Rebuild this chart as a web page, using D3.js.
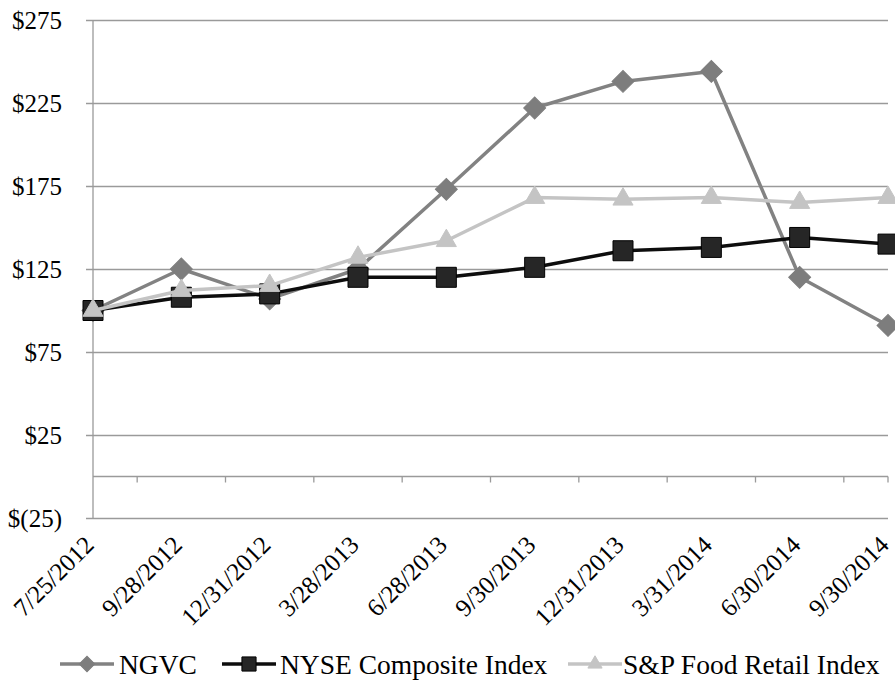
<!DOCTYPE html>
<html>
<head>
<meta charset="utf-8">
<script src="https://cdn.jsdelivr.net/npm/d3@7"></script>
<style>
  html, body { margin: 0; padding: 0; background: #fff; }
  svg { display: block; }
  text { font-family: "Liberation Serif", "Times New Roman", serif; fill: #000; }
</style>
</head>
<body>
<svg id="chart" width="895" height="682"></svg>
<script>
const categories = ["7/25/2012","9/28/2012","12/31/2012","3/28/2013","6/28/2013","9/30/2013","12/31/2013","3/31/2014","6/30/2014","9/30/2014"];
const ngvc = [100, 125, 107, 125, 173, 222, 238, 244, 120, 91];
const nyse = [100, 108, 110, 120, 120, 126, 136, 138, 144, 140];
const spFood = [100, 112, 115, 132, 142, 168, 167, 168, 165, 168];
const yTicks = [-25, 25, 75, 125, 175, 225, 275];
const seriesNames = ["NGVC", "NYSE Composite Index", "S&P Food Retail Index"];

(function () {
const svg = d3.select("#chart");
const pl = 93, pr = 888, pt = 20, pb = 518;
const fs = 25;

const x = d3.scalePoint().domain(categories).range([pl, pr]);
const y = d3.scaleLinear().domain([-25, 275]).range([pb, pt]);

const fmt = v => v < 0 ? "$(" + Math.abs(v) + ")" : "$" + v;

// gridlines + y axis labels
const yAxis = d3.axisLeft(y).tickValues(yTicks).tickFormat(fmt)
  .tickSize(-(pr - pl)).tickSizeOuter(0).tickPadding(31);
const gy = svg.append("g").attr("transform", `translate(${pl},0)`).call(yAxis);
gy.select(".domain").remove();
gy.selectAll(".tick line").attr("stroke", "#9a9a9a").attr("stroke-width", 1.3).attr("x1", -7);
gy.selectAll(".tick text").attr("font-size", fs).attr("font-family", "Liberation Serif").attr("fill", "#000");

// y axis line
svg.append("line").attr("x1", pl).attr("x2", pl).attr("y1", y(275)).attr("y2", y(-25))
  .attr("stroke", "#9a9a9a").attr("stroke-width", 1.3);

// x axis at zero with ticks between categories
const step = x.step();
const tickPos = d3.range(categories.length).map(i => x(categories[i]) + step / 2);
tickPos[tickPos.length - 1] = pr;
const gx = svg.append("g");
gx.append("line").attr("x1", pl).attr("x2", pr).attr("y1", y(0)).attr("y2", y(0))
  .attr("stroke", "#9a9a9a").attr("stroke-width", 1.3);
gx.selectAll("line.tk").data(tickPos).join("line").attr("class", "tk")
  .attr("x1", d => d).attr("x2", d => d).attr("y1", y(0)).attr("y2", y(0) + 6)
  .attr("stroke", "#9a9a9a").attr("stroke-width", 1.3);

// x labels
svg.append("g").selectAll("text").data(categories).join("text")
  .attr("transform", d => `translate(${x(d) - 10},${pb + 16}) rotate(-45)`)
  .attr("text-anchor", "end").attr("dy", "0.7em")
  .attr("font-size", 25).text(d => d);

const series = [
  { name: seriesNames[0], values: ngvc, color: "#828282", fill: "#7d7d7d", stroke: "#7d7d7d", sym: d3.symbolSquare, rot: 45, size: 240, width: 3.5 },
  { name: seriesNames[1], values: nyse, color: "#0d0d0d", fill: "#262626", stroke: "#000", sym: d3.symbolSquare, rot: 0, size: 400, width: 3.5 },
  { name: seriesNames[2], values: spFood, color: "#c4c4c4", fill: "#c4c4c4", stroke: "#c4c4c4", sym: d3.symbolTriangle, rot: 0, size: 175, width: 3.5 }
];

const line = d3.line().x((d, i) => x(categories[i])).y(d => y(d));

series.forEach(s => {
  const g = svg.append("g");
  g.append("path").datum(s.values).attr("d", line).attr("fill", "none")
    .attr("stroke", s.color).attr("stroke-width", s.width).attr("stroke-linejoin", "round");
  g.selectAll("path.m").data(s.values).join("path").attr("class", "m")
    .attr("d", d3.symbol().type(s.sym).size(s.size))
    .attr("transform", (d, i) => `translate(${x(categories[i])},${y(d)}) rotate(${s.rot})`)
    .attr("fill", s.fill).attr("stroke", s.stroke).attr("stroke-width", 1);
});

// legend
const legendItems = [
  { s: series[0], lx: 60, tx: 119 },
  { s: series[1], lx: 222, tx: 280 },
  { s: series[2], lx: 568, tx: 623 }
];
const lg = svg.append("g");
const ly = 664;
legendItems.forEach(it => {
  lg.append("line").attr("x1", it.lx).attr("x2", it.lx + 54).attr("y1", ly).attr("y2", ly)
    .attr("stroke", it.s.color).attr("stroke-width", it.s.width);
  lg.append("path").attr("d", d3.symbol().type(it.s.sym).size(it.s.size * 0.5))
    .attr("transform", `translate(${it.lx + 27},${ly}) rotate(${it.s.rot})`)
    .attr("fill", it.s.fill).attr("stroke", it.s.stroke).attr("stroke-width", 1);
  lg.append("text").attr("x", it.tx).attr("y", ly).attr("dy", "0.35em")
    .attr("font-size", 27.5).text(it.s.name);
});
})();
</script>
</body>
</html>
